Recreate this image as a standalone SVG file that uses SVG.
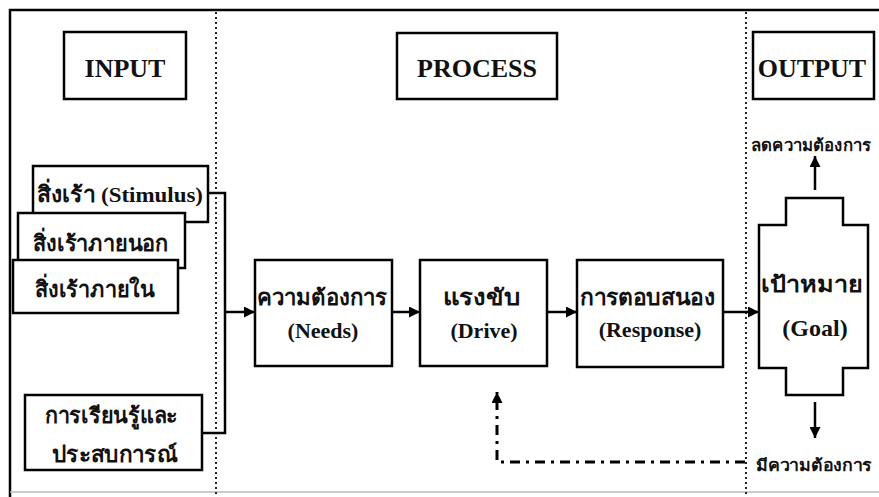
<svg xmlns="http://www.w3.org/2000/svg" width="879" height="497" viewBox="0 0 879 497">
<defs>
<marker id="ah" viewBox="0 0 10 10" refX="10" refY="5" markerWidth="11" markerHeight="11" markerUnits="userSpaceOnUse" orient="auto">
<path d="M0,0 L10,5 L0,10 Z" fill="#000"/>
</marker>
</defs>
<style>
.box{fill:#fff;stroke:#000;stroke-width:2.5}
.ln{fill:none;stroke:#000;stroke-width:2.5}
.div{fill:none;stroke:#222;stroke-width:2;stroke-dasharray:2 3}
.hd{font-family:"Liberation Serif","Times New Roman",serif;font-weight:bold;font-size:26px;text-anchor:middle;fill:#111}
.th{font-family:"Liberation Serif","Noto Sans",serif;font-weight:bold;font-size:22px;fill:#111}
.en{font-family:"Liberation Serif","Times New Roman",serif;font-weight:bold;font-size:22px;text-anchor:middle;fill:#111}
.sm{font-family:"Liberation Serif","Noto Sans",serif;font-weight:bold;font-size:16.5px;fill:#111}
</style>
<rect width="879" height="497" fill="#fff"/>
<g id="frame">
<path class="ln" d="M10,497 V10 H879"/>
<path d="M10,492 H879" fill="none" stroke="#bbb" stroke-width="1.5"/>
<line class="div" x1="216" y1="12" x2="216" y2="497"/>
<line class="div" x1="746" y1="12" x2="746" y2="497"/>
</g>
<g id="input-head"><rect class="box" x="64" y="32" width="122" height="67"/><text class="hd" x="125" y="77">INPUT</text></g>
<g id="process-head"><rect class="box" x="397" y="33" width="160" height="66"/><text class="hd" x="477" y="77">PROCESS</text></g>
<g id="output-head"><rect class="box" x="753" y="32" width="121" height="67"/><text class="hd" x="812" y="77">OUTPUT</text></g>
<g id="stimulus"><rect class="box" x="33" y="166" width="175" height="56"/><text class="th" x="37" y="202" textLength="166" lengthAdjust="spacingAndGlyphs">สิ่งเร้า (Stimulus)</text></g>
<g id="external"><rect class="box" x="18" y="213" width="167" height="55"/><text class="th" x="33" y="251" textLength="135" lengthAdjust="spacingAndGlyphs">สิ่งเร้าภายนอก</text></g>
<g id="internal"><rect class="box" x="13" y="260" width="165" height="53"/><text class="th" x="35" y="297" textLength="120" lengthAdjust="spacingAndGlyphs">สิ่งเร้าภายใน</text></g>
<g id="learning"><rect class="box" x="25" y="395" width="177" height="75"/><text class="th" x="45" y="423" textLength="133" lengthAdjust="spacingAndGlyphs">การเรียนรู้และ</text><text class="th" x="52" y="462" textLength="125" lengthAdjust="spacingAndGlyphs">ประสบการณ์</text></g>
<g id="needs"><rect class="box" x="255" y="260" width="137" height="106"/><text class="th" x="257" y="305" textLength="130" lengthAdjust="spacingAndGlyphs">ความต้องการ</text><text class="en" x="323" y="338">(Needs)</text></g>
<g id="drive"><rect class="box" x="420" y="260" width="127" height="106"/><text class="th" x="443" y="305" textLength="77" lengthAdjust="spacingAndGlyphs">แรงขับ</text><text class="en" x="484" y="338">(Drive)</text></g>
<g id="response"><rect class="box" x="577" y="260" width="146" height="107"/><text class="th" x="580" y="305" textLength="135" lengthAdjust="spacingAndGlyphs">การตอบสนอง</text><text class="en" x="650" y="337">(Response)</text></g>
<g id="goal"><path class="box" d="M786,198 H843 V225 H868 V368 H843 V395 H786 V368 H759 V225 H786 Z"/><text class="th" x="761" y="292" textLength="102" lengthAdjust="spacingAndGlyphs">เป้าหมาย</text><text class="en" x="815" y="336" style="font-size:24px">(Goal)</text></g>
<g id="labels">
<text class="sm" x="751" y="151" textLength="120" lengthAdjust="spacingAndGlyphs">ลดความต้องการ</text>
<text class="sm" x="756" y="471" textLength="116" lengthAdjust="spacingAndGlyphs">มีความต้องการ</text>
</g>
<g id="connectors">
<path class="ln" d="M208,193 H225 V433 H202"/>
<line class="ln" x1="225" y1="312" x2="255" y2="312" marker-end="url(#ah)"/>
<line class="ln" x1="392" y1="312" x2="420" y2="312" marker-end="url(#ah)"/>
<line class="ln" x1="547" y1="312" x2="577" y2="312" marker-end="url(#ah)"/>
<line class="ln" x1="723" y1="312" x2="759" y2="312" marker-end="url(#ah)"/>
<line class="ln" x1="815" y1="190" x2="815" y2="156" marker-end="url(#ah)"/>
<line class="ln" x1="815" y1="402" x2="815" y2="438" marker-end="url(#ah)"/>
<path d="M745,462 H497 V392" fill="none" stroke="#000" stroke-width="3" stroke-dasharray="10 6 3 6" marker-end="url(#ah)"/>
</g>
</svg>
